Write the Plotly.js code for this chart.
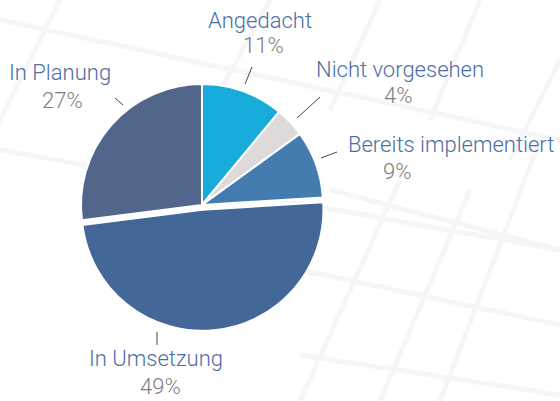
<!DOCTYPE html>
<html>
<head>
<meta charset="utf-8">
<script src="https://cdn.plot.ly/plotly-3.0.1.min.js"></script>
<style>html,body{margin:0;padding:0;background:#fff;}#chart{width:560px;height:401px;}</style>
</head>
<body>
<div id="chart"></div>
<script>
// Data
const categories = ["Angedacht", "Nicht vorgesehen", "Bereits implementiert", "In Umsetzung", "In Planung"];
const values = [11, 4, 9, 49, 27];
const percentLabels = ["11%", "4%", "9%", "49%", "27%"];
const colors = ["#18acdb", "#dedada", "#457caf", "#436796", "#52658b"];
const pulls = [0, 0, 0, 0.04, 0];

// Layout helpers (positions in pixels from top-left)
const W = 560, H = 401;
const cx = 202, cy = 205, R = 121;
const labelPos = [
  {x: 260, y: 20, px: 263, py: 46},
  {x: 400, y: 69, px: 398, py: 96},
  {x: 451, y: 144, px: 397, py: 172},
  {x: 156, y: 358, px: 160, py: 386},
  {x: 60, y: 72, px: 62, py: 100}
];
const leaderLines = [
  [245, 84, 252, 67],
  [297, 118, 320, 97],
  [321, 158, 337, 152],
  [157, 332, 157, 345],
  [115, 98, 123, 105]
];
const px = x => x / W, py = y => 1 - y / H;

const maxPull = Math.max(...pulls);
const half = R * (1 + maxPull);

const bgLines = [
  [0, 20, 560, 140], [0, 150, 560, 250], [330, 190, 560, 250], [300, 270, 560, 325], [300, 355, 560, 395],
  [60, 0, -40, 200], [270, 0, 160, 200], [400, 180, 300, 401], [470, 190, 380, 401], [540, 140, 440, 401],
  [380, 0, 330, 110], [480, 0, 430, 120], [560, 60, 510, 160]
];

const shapes = bgLines.map(l => ({
  type: 'line', xref: 'paper', yref: 'paper', layer: 'below',
  x0: px(l[0]), y0: py(l[1]), x1: px(l[2]), y1: py(l[3]),
  line: {color: '#f6f6f8', width: 5}
})).concat(leaderLines.map(l => ({
  type: 'line', xref: 'paper', yref: 'paper',
  x0: px(l[0]), y0: py(l[1]), x1: px(l[2]), y1: py(l[3]),
  line: {color: '#444', width: 1}
})));

const fam = 'Roboto, "Liberation Sans", sans-serif';
const annotations = [];
categories.forEach((c, i) => {
  const p = labelPos[i];
  annotations.push({text: c, xref: 'paper', yref: 'paper', x: px(p.x), y: py(p.y),
    xanchor: 'center', yanchor: 'middle', showarrow: false,
    font: {family: fam, size: 22, color: '#4c6ea5', weight: 300}});
  annotations.push({text: percentLabels[i], xref: 'paper', yref: 'paper', x: px(p.px), y: py(p.py),
    xanchor: 'center', yanchor: 'middle', showarrow: false,
    font: {family: fam, size: 22, color: '#7d7d7d', weight: 300}});
});

const trace = {
  type: 'pie',
  labels: categories,
  values: values,
  sort: false,
  direction: 'clockwise',
  rotation: 0,
  pull: pulls,
  marker: {colors: colors, line: {color: '#ffffff', width: 2}},
  textinfo: 'none',
  hoverinfo: 'label+percent',
  showlegend: false,
  domain: {x: [px(cx - half), px(cx + half)], y: [py(cy + half), py(cy - half)]}
};

const layout = {
  width: W, height: H,
  margin: {l: 0, r: 0, t: 0, b: 0},
  paper_bgcolor: '#ffffff',
  plot_bgcolor: '#ffffff',
  showlegend: false,
  shapes: shapes,
  annotations: annotations
};

Plotly.newPlot('chart', [trace], layout, {displayModeBar: false, staticPlot: true});
</script>
</body>
</html>
